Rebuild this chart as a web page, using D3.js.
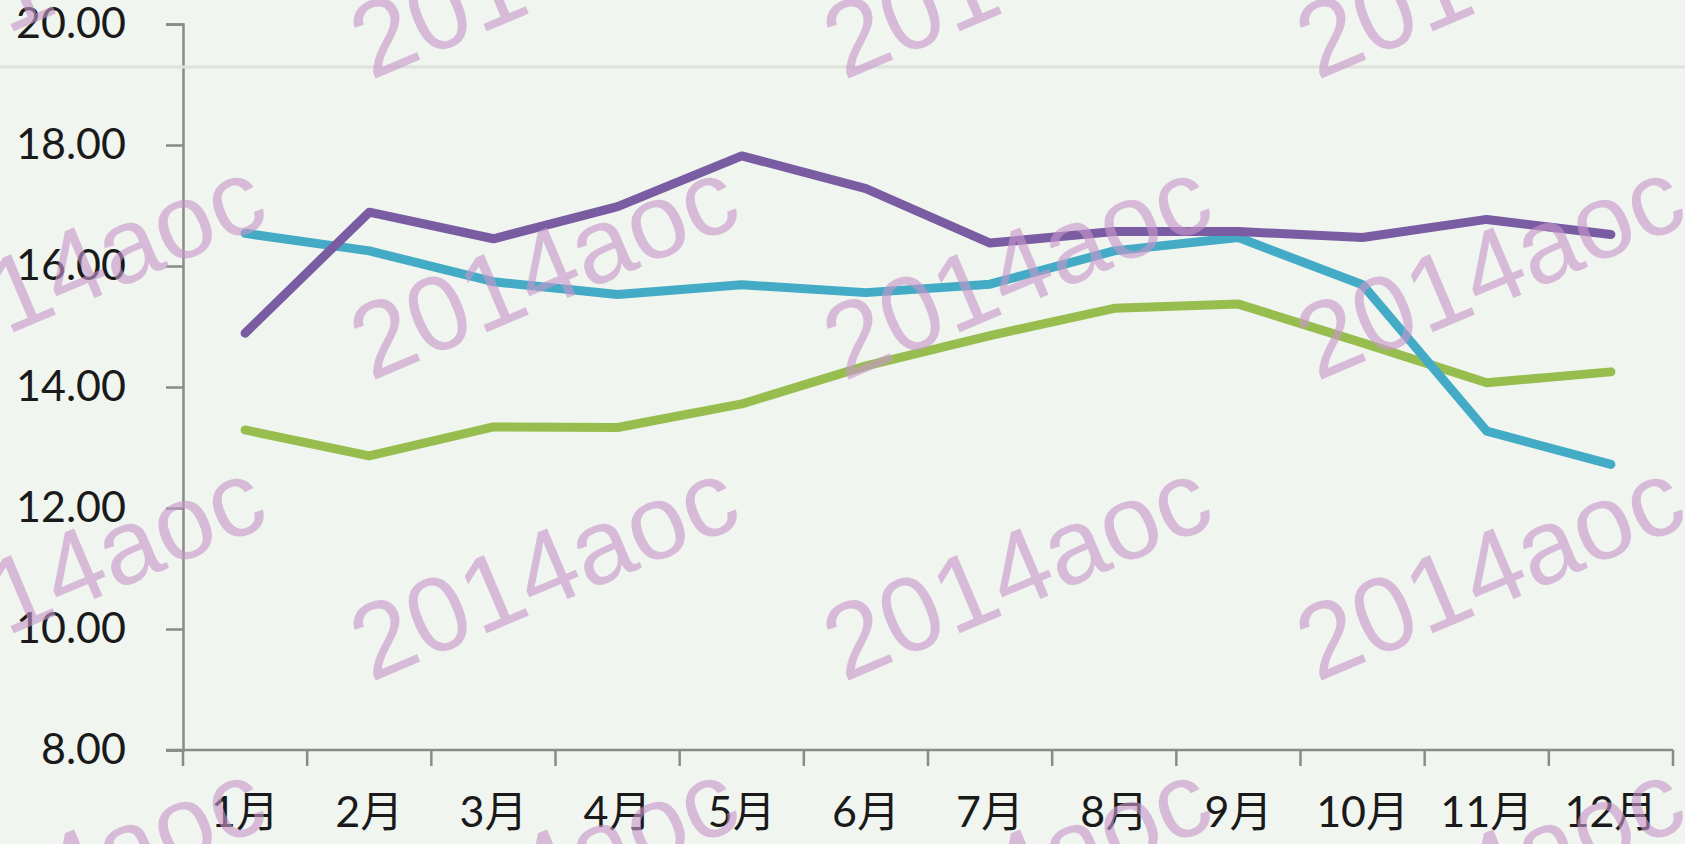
<!DOCTYPE html>
<html>
<head>
<meta charset="utf-8">
<script src="https://cdn.jsdelivr.net/npm/d3@7"></script>
<style>
  html, body { margin: 0; padding: 0; background: #f0f5ef; }
  svg { display: block; }
  .axis path, .axis line { stroke: #8a8a8a; stroke-width: 2.5px; }
  .axis text { font-family: Lato, "Noto Sans CJK SC", sans-serif; font-size: 43px; fill: #1a1a1a; }
</style>
</head>
<body>
<svg id="chart"></svg>
<script>
(function() {
    'use strict';

    var months = ['1月', '2月', '3月', '4月', '5月', '6月', '7月', '8月', '9月', '10月', '11月', '12月'];
    var yTicks = [8, 10, 12, 14, 16, 18, 20];
    var purple = [14.89, 16.89, 16.45, 16.98, 17.82, 17.28, 16.38, 16.57, 16.57, 16.47, 16.77, 16.52];
    var cyan   = [16.54, 16.25, 15.74, 15.53, 15.69, 15.56, 15.70, 16.25, 16.47, 15.69, 13.27, 12.72];
    var green  = [13.29, 12.86, 13.34, 13.33, 13.72, 14.35, 14.85, 15.30, 15.37, 14.73, 14.07, 14.25];

    var series = [
        {name: 'green', values: green, color: '#98bd4f'},
        {name: 'cyan', values: cyan, color: '#44abc6'},
        {name: 'purple', values: purple, color: '#7a5ca3'}
    ];

    var width = 1685, height = 844,
        margin = {top: 24, right: 12, bottom: 94, left: 183},
        plot_w = width - margin.left - margin.right,
        plot_h = height - margin.top - margin.bottom;

    var svg = d3.select('#chart')
        .attr('width', width)
        .attr('height', height);

    svg.append('rect')
        .attr('width', width)
        .attr('height', height)
        .attr('fill', '#f0f5ef');

    var g = svg.append('g')
        .attr('transform', 'translate(' + margin.left + ',' + margin.top + ')');

    var x = d3.scaleBand()
        .domain(months)
        .range([0, plot_w])
        .padding(0);

    var y = d3.scaleLinear()
        .domain([8, 20])
        .range([plot_h, 0]);

    // faint horizontal rule across the whole picture
    svg.append('rect')
        .attr('x', 0)
        .attr('y', margin.top + y(19.29) - 1.5)
        .attr('width', width)
        .attr('height', 3)
        .attr('fill', '#dde2db');

    // y axis
    var yAxis = d3.axisLeft(y)
        .tickValues(yTicks)
        .tickSize(17)
        .tickPadding(40)
        .tickFormat(d3.format('.2f'));
    g.append('g')
        .attr('class', 'y axis')
        .call(yAxis);

    // x axis: labels centred in bands, ticks on band edges
    var xAxis = d3.axisBottom(x)
        .tickSize(0)
        .tickPadding(46);
    var xg = g.append('g')
        .attr('class', 'x axis')
        .attr('transform', 'translate(0,' + plot_h + ')')
        .call(xAxis);
    xg.select('.domain').remove();

    xg.append('line')
        .attr('x1', -17)
        .attr('x2', plot_w)
        .attr('y1', 0)
        .attr('y2', 0);

    var edges = months.map(function(m) { return x(m); }).concat([plot_w]);
    xg.selectAll('line.edge')
        .data(edges)
        .enter().append('line')
        .attr('class', 'edge')
        .attr('x1', function(d) { return d; })
        .attr('x2', function(d) { return d; })
        .attr('y1', 0)
        .attr('y2', 16);

    // lines
    var line = d3.line()
        .x(function(d, i) { return x(months[i]) + x.bandwidth() / 2; })
        .y(function(d) { return y(d); });

    g.selectAll('path.series')
        .data(series)
        .enter().append('path')
        .attr('class', 'series')
        .attr('d', function(d) { return line(d.values); })
        .attr('fill', 'none')
        .attr('stroke', function(d) { return d.color; })
        .attr('stroke-width', 9)
        .attr('stroke-linejoin', 'round')
        .attr('stroke-linecap', 'round');

    // watermark
    var wmCols = d3.range(4).map(function(i) { return 70 + i * 473; });
    var wmRows = d3.range(4).map(function(j) { return -34 + j * 301; });
    var wm = svg.append('g').attr('pointer-events', 'none');
    wmRows.forEach(function(cy) {
        wmCols.forEach(function(cx) {
            wm.append('text')
                .attr('transform', 'translate(' + cx + ',' + cy + ') rotate(-23)')
                .attr('text-anchor', 'middle')
                .attr('dy', '0.36em')
                .attr('font-family', '"Liberation Sans", Arial, sans-serif')
                .attr('font-size', 106)
                .attr('fill', '#c796c9')
                .attr('fill-opacity', 0.62)
                .text('2014aoc');
        });
    });
})();
</script>
</body>
</html>
